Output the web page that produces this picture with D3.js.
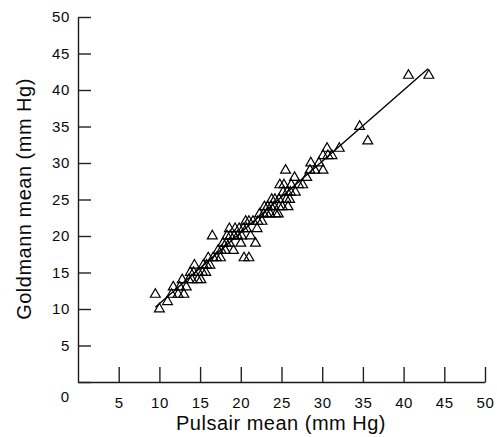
<!DOCTYPE html>
<html>
<head>
<meta charset="utf-8">
<script src="https://cdn.jsdelivr.net/npm/d3@7"></script>
<style>
  body { margin: 0; background: #fff; }
  text { font-family: "Liberation Sans", Arial, Helvetica, sans-serif; fill: #0a0a0a; }
</style>
</head>
<body>
<div id="chart"></div>
<script>
// Pulsair vs Goldmann readings (mm Hg)
const pulsair = [9.5, 10, 11, 11.5, 11.7, 12.3, 12.5, 12.8, 13, 13.3, 13.6, 13.8, 14, 14.2, 14.3, 14.7, 14.8, 15.1, 15.3, 15.4,
  15.7, 15.8, 16, 16.2, 16.5, 16.6, 17, 17.2, 17.5, 17.6, 17.8, 18.1, 18.2, 18.3, 18.6, 18.7, 18.6, 19.1, 19.2, 19.3,
  19.6, 19.8, 20, 20.1, 20.3, 20.4, 20.6, 20.7, 21, 21, 21.2, 21.5, 21.8, 22, 22.1, 22.3, 22.6, 22.8, 22.9, 23.2,
  23.3, 23.6, 23.7, 23.8, 24.1, 24.2, 24.3, 24.6, 24.7, 24.7, 24.8, 25.1, 25.2, 25.3, 25.5, 25.6, 25.7, 25.8, 26, 26.1,
  26.2, 26.6, 26.7, 27.1, 27.6, 28.1, 28.5, 28.6, 29.1, 29.6, 30.1, 30.1, 30.6, 30.7, 31.2, 32.1, 34.6, 35.6, 40.6, 43.1];
const goldmann = [12, 10, 11, 12, 13, 12, 13, 14, 12, 13, 14, 15, 14, 15, 16, 14, 15, 14, 15, 16,
  15, 16, 17, 16, 20, 17, 17, 18, 17, 18, 19, 18, 19, 20, 19, 20, 21, 18, 20, 21,
  20, 21, 19, 20, 21, 17, 22, 21, 17, 22, 20, 22, 19, 21, 22, 23, 22, 23, 24, 23,
  24, 23, 24, 25, 24, 25, 23, 23, 24, 25, 27, 24, 26, 27, 29, 25, 26, 24, 25, 26,
  27, 28, 26, 27, 27, 28, 29, 30, 29, 30, 29, 31, 32, 31, 31, 32, 35, 33, 42, 42];

// regression line as drawn in the figure
const fitSlope = 0.975;
const fitIntercept = 0.98;
const fitRange = [9.5, 43];

const xTicks = [5, 10, 15, 20, 25, 30, 35, 40, 45, 50];
const yTicks = [0, 5, 10, 15, 20, 25, 30, 35, 40, 45, 50];

function plot_scatter() {
  let width = 497, height = 437;
  let svg = d3.select('#chart')
    .append('svg')
    .attr('width', width)
    .attr('height', height);

  let x = d3.scaleLinear().domain([0, 50]).range([78, 485]);
  let y = d3.scaleLinear().domain([0, 50]).range([382, 17]);

  // x axis, ticks pointing up into the plot
  let xAxis = d3.axisBottom(x)
    .tickValues(xTicks)
    .tickSizeInner(-15)
    .tickSizeOuter(0)
    .tickPadding(23);
  let gx = svg.append('g')
    .attr('transform', 'translate(0,' + y(0) + ')')
    .call(xAxis);

  // y axis, ticks pointing right into the plot
  let yAxis = d3.axisLeft(y)
    .tickValues(yTicks)
    .tickSizeInner(-13)
    .tickSizeOuter(0)
    .tickPadding(8)
    .tickFormat(function (d) { return d === 0 ? '' : d; });
  let gy = svg.append('g')
    .attr('transform', 'translate(' + x(0) + ',0)')
    .call(yAxis);

  [gx, gy].forEach(function (g) {
    g.select('.domain').attr('stroke', '#1a1a1a').attr('stroke-width', 1.4);
    g.selectAll('.tick line').attr('stroke', '#222').attr('stroke-width', 1.4);
    g.selectAll('.tick text')
      .attr('fill', '#0a0a0a')
      .style('font-size', '15px')
      .style('letter-spacing', '0.6px');
  });
  gx.selectAll('.tick text').attr('dy', '0.2em');

  // shared origin label
  svg.append('text')
    .attr('x', x(0) - 13)
    .attr('y', y(0) + 20)
    .attr('text-anchor', 'middle')
    .style('font-size', '15px')
    .text('0');

  // regression line
  svg.append('line')
    .attr('x1', x(fitRange[0]))
    .attr('y1', y(fitSlope * fitRange[0] + fitIntercept))
    .attr('x2', x(fitRange[1]))
    .attr('y2', y(fitSlope * fitRange[1] + fitIntercept))
    .attr('stroke', '#000')
    .attr('stroke-width', 1.4);

  // open triangles
  let tri = d3.symbol().type(d3.symbolTriangle).size(42);
  svg.append('g')
    .selectAll('path')
    .data(d3.range(pulsair.length))
    .enter().append('path')
    .attr('d', tri)
    .attr('transform', function (i) { return 'translate(' + x(pulsair[i]) + ',' + y(goldmann[i]) + ')'; })
    .attr('fill', 'none')
    .attr('stroke', '#000')
    .attr('stroke-width', 1.2);

  // axis titles
  svg.append('text')
    .attr('x', 281)
    .attr('y', 430)
    .attr('text-anchor', 'middle')
    .style('font-size', '20px')
    .style('letter-spacing', '0.5px')
    .text('Pulsair mean (mm Hg)');

  svg.append('text')
    .attr('transform', 'translate(31,199) rotate(-90)')
    .attr('text-anchor', 'middle')
    .style('font-size', '20px')
    .style('letter-spacing', '0.5px')
    .text('Goldmann mean (mm Hg)');
}

plot_scatter();
</script>
</body>
</html>
